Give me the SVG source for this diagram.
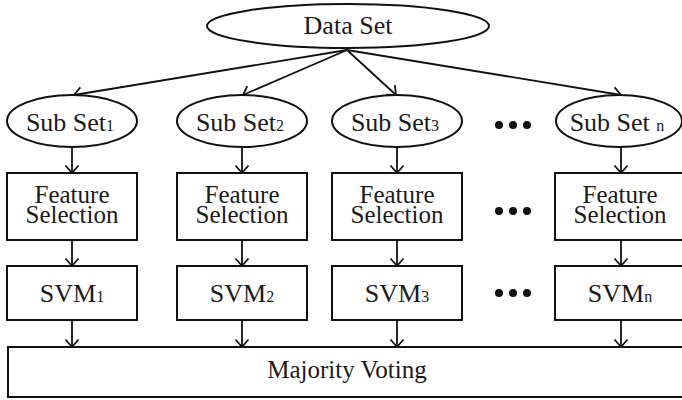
<svg xmlns="http://www.w3.org/2000/svg" width="682" height="400" viewBox="0 0 682 400">
<defs>
<marker id="ah" markerWidth="16" markerHeight="16" viewBox="-9 -8 10 16" refX="0" refY="0" orient="auto" markerUnits="userSpaceOnUse">
<path d="M-7.5,-6.5 L0,0 L-7.5,6.5" fill="none" stroke="#111" stroke-width="1.8"/>
</marker>
<style>
.n{fill:#fff;stroke:#111;stroke-width:2}
.t{font-family:"Liberation Serif","Times New Roman",serif;font-size:25px;fill:#1a1a1a;text-anchor:middle}
.b{font-size:26px}
.s{font-size:16px}
.c line{stroke:#111;stroke-width:1.8;marker-end:url(#ah)}
.d{fill:#111}
</style>
</defs>
<rect width="682" height="400" fill="#fff"/>
<g class="c">
<line x1="347" y1="50" x2="74" y2="95"/>
<line x1="347" y1="50" x2="243" y2="95"/>
<line x1="347" y1="50" x2="396" y2="95"/>
<line x1="347" y1="50" x2="621" y2="95"/>
<line x1="72" y1="147" x2="72" y2="173"/>
<line x1="242" y1="147" x2="242" y2="173"/>
<line x1="397" y1="147" x2="397" y2="173"/>
<line x1="621" y1="147" x2="621" y2="173"/>
<line x1="72" y1="240" x2="72" y2="266"/>
<line x1="242" y1="240" x2="242" y2="266"/>
<line x1="397" y1="240" x2="397" y2="266"/>
<line x1="621" y1="240" x2="621" y2="266"/>
<line x1="72" y1="320" x2="72" y2="347"/>
<line x1="242" y1="320" x2="242" y2="347"/>
<line x1="397" y1="320" x2="397" y2="347"/>
<line x1="621" y1="320" x2="621" y2="347"/>
</g>
<g id="dataset"><ellipse class="n" cx="348" cy="26" rx="141" ry="22"/><text class="t b" x="348" y="34">Data Set</text></g>
<g id="subset1"><ellipse class="n" cx="72" cy="121" rx="65" ry="26"/><text class="t b" x="70" y="131">Sub Set<tspan class="s">1</tspan></text></g>
<g id="subset2"><ellipse class="n" cx="242" cy="121" rx="65" ry="26"/><text class="t b" x="240" y="131">Sub Set<tspan class="s">2</tspan></text></g>
<g id="subset3"><ellipse class="n" cx="397" cy="121" rx="65" ry="26"/><text class="t b" x="395" y="131">Sub Set<tspan class="s">3</tspan></text></g>
<g id="subsetn"><ellipse class="n" cx="619" cy="121" rx="63" ry="26"/><text class="t b" x="617" y="131">Sub Set <tspan class="s">n</tspan></text></g>
<g id="fs1"><rect class="n" x="7" y="173" width="130" height="67"/><text class="t" x="72" y="203">Feature</text><text class="t" x="72" y="223">Selection</text></g>
<g id="fs2"><rect class="n" x="177" y="173" width="130" height="67"/><text class="t" x="242" y="203">Feature</text><text class="t" x="242" y="223">Selection</text></g>
<g id="fs3"><rect class="n" x="332" y="173" width="130" height="67"/><text class="t" x="397" y="203">Feature</text><text class="t" x="397" y="223">Selection</text></g>
<g id="fsn"><rect class="n" x="555" y="173" width="140" height="67"/><text class="t" x="620" y="203">Feature</text><text class="t" x="620" y="223">Selection</text></g>
<g id="svm1"><rect class="n" x="7" y="266" width="130" height="54"/><text class="t b" x="72" y="302">SVM<tspan class="s">1</tspan></text></g>
<g id="svm2"><rect class="n" x="177" y="266" width="130" height="54"/><text class="t b" x="242" y="302">SVM<tspan class="s">2</tspan></text></g>
<g id="svm3"><rect class="n" x="332" y="266" width="130" height="54"/><text class="t b" x="397" y="302">SVM<tspan class="s">3</tspan></text></g>
<g id="svmn"><rect class="n" x="555" y="266" width="140" height="54"/><text class="t b" x="620" y="302">SVM<tspan class="s">n</tspan></text></g>
<g id="voting"><rect class="n" x="8" y="347" width="690" height="50"/><text class="t" x="347" y="378">Majority Voting</text></g>
<g id="dots">
<circle class="d" cx="499" cy="125" r="4"/><circle class="d" cx="513" cy="125" r="4"/><circle class="d" cx="527" cy="125" r="4"/>
<circle class="d" cx="499" cy="211" r="4"/><circle class="d" cx="513" cy="211" r="4"/><circle class="d" cx="527" cy="211" r="4"/>
<circle class="d" cx="499" cy="293" r="4"/><circle class="d" cx="513" cy="293" r="4"/><circle class="d" cx="527" cy="293" r="4"/>
</g>
</svg>
